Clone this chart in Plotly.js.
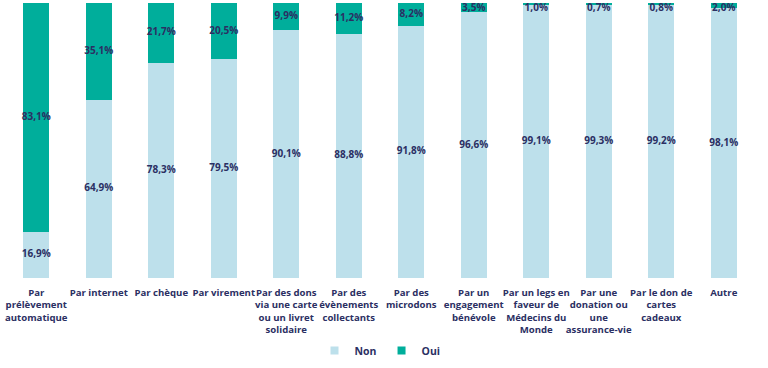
<!DOCTYPE html>
<html>
<head>
<meta charset="utf-8">
<script src="https://cdn.plot.ly/plotly-3.0.1.min.js"></script>
<style>html,body{margin:0;padding:0;background:#fff;}#chart{width:768px;height:368px;}</style>
</head>
<body>
<div id="chart"></div>
<script>
const categories = [
  "Par<br>prélèvement<br>automatique",
  "Par internet",
  "Par chèque",
  "Par virement",
  "Par des dons<br>via une carte<br>ou un livret<br>solidaire",
  "Par des<br>évènements<br>collectants",
  "Par des<br>microdons",
  "Par un<br>engagement<br>bénévole",
  "Par un legs en<br>faveur de<br>Médecins du<br>Monde",
  "Par une<br>donation ou<br>une<br>assurance-vie",
  "Par le don de<br>cartes<br>cadeaux",
  "Autre"
];
const nonValues = [16.9, 64.9, 78.3, 79.5, 90.1, 88.8, 91.8, 96.6, 99.1, 99.3, 99.2, 98.1];
const ouiValues = [83.1, 35.1, 21.7, 20.5, 9.9, 11.2, 8.2, 3.5, 1.0, 0.7, 0.8, 2.0];
const seriesNames = ['Non', 'Oui'];
const seriesColors = ['#bde0eb', '#00ae9b'];

const NAVY = '#2b2f63';
const fmt = v => v.toFixed(1).replace('.', ',') + '%';
const labelFont = {family: 'Open Sans', size: 10, color: NAVY, weight: 'bold'};

const traces = [
  {type: 'bar', name: seriesNames[0], x: categories, y: nonValues,
   marker: {color: seriesColors[0]}, hoverinfo: 'skip', showlegend: false},
  {type: 'bar', name: seriesNames[1], x: categories, y: ouiValues,
   marker: {color: seriesColors[1]}, hoverinfo: 'skip', showlegend: false},
  {type: 'scatter', mode: 'text', x: categories,
   y: nonValues.map(v => v / 2), text: nonValues.map(fmt),
   textfont: labelFont, showlegend: false, hoverinfo: 'skip', cliponaxis: false},
  {type: 'scatter', mode: 'text', x: categories,
   y: nonValues.map((v, i) => Math.min(v + ouiValues[i] / 2, 98)),
   text: ouiValues.map(fmt),
   textfont: labelFont, showlegend: false, hoverinfo: 'skip', cliponaxis: false}
];
// legend entries with small square swatches
seriesNames.forEach((n, i) => traces.push({
  type: 'scatter', mode: 'markers', name: n, x: [null], y: [null],
  marker: {symbol: 'square', size: 8, color: seriesColors[i]}, hoverinfo: 'skip'
}));

const layout = {
  width: 768, height: 368,
  margin: {l: 5, r: 13, t: 3, b: 88},
  barmode: 'stack',
  bargap: 0.58,
  paper_bgcolor: '#fff', plot_bgcolor: '#fff',
  font: {family: 'Open Sans', color: NAVY},
  xaxis: {tickfont: {family: 'Open Sans', size: 9.6, color: NAVY, weight: 'bold'},
          tickangle: 0, automargin: false, range: [-0.5, categories.length - 0.5],
          ticklabelstandoff: 7,
          showgrid: false, zeroline: false, showline: false, ticks: '', fixedrange: true},
  yaxis: {range: [0, 100], visible: false, fixedrange: true},
  legend: {orientation: 'h', x: 0.5, xanchor: 'center', y: -0.264, yanchor: 'middle',
           font: {family: 'Open Sans', size: 10.5, color: NAVY, weight: 'bold'},
           itemwidth: 30, tracegroupgap: 0, traceorder: 'normal'},
  showlegend: true
};

Plotly.newPlot('chart', traces, layout, {displayModeBar: false, staticPlot: true});
</script>
</body>
</html>
